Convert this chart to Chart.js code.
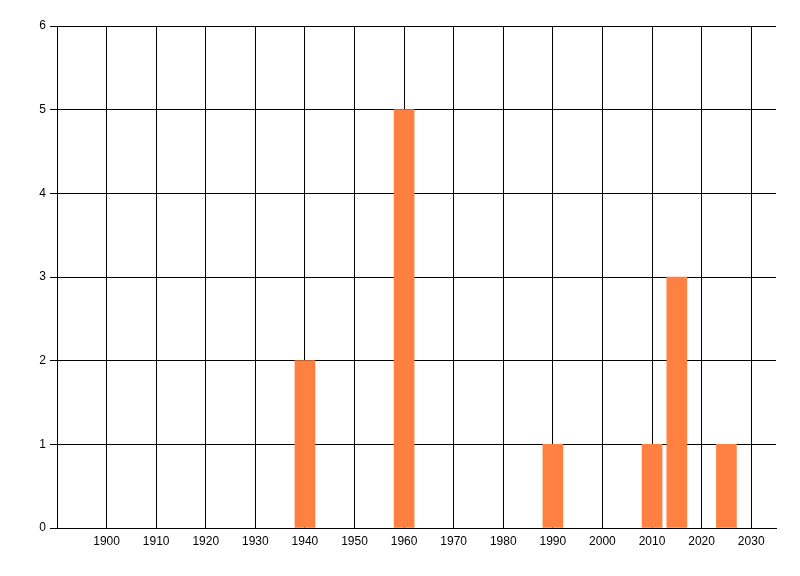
<!DOCTYPE html>
<html>
<head>
<meta charset="utf-8">
<style>
  html, body { margin: 0; padding: 0; background: #fff; }
  #wrap { width: 800px; height: 576px; }
</style>
<script src="https://cdn.jsdelivr.net/npm/chart.js@4/dist/chart.umd.min.js"></script>
</head>
<body>
<div id="wrap"><canvas id="chart" width="800" height="576"></canvas></div>
<script>
// data
const years = [1940, 1960, 1990, 2010, 2015, 2025];
const counts = [2, 5, 1, 1, 3, 1];
const xTickYears = [1900, 1910, 1920, 1930, 1940, 1950, 1960, 1970, 1980, 1990, 2000, 2010, 2020, 2030];
const yTickValues = [0, 1, 2, 3, 4, 5, 6];

const points = years.map(function(y, i) { return { x: y, y: counts[i] }; });

const ctx = document.getElementById("chart").getContext("2d");
new Chart(ctx, {
    type: "bar",
    data: {
        datasets: [{
            data: points,
            backgroundColor: "#FF8040",
            borderWidth: 0,
            barThickness: 20
        }]
    },
    options: {
        responsive: false,
        animation: false,
        layout: { padding: { top: 26, right: 24, left: 0, bottom: 0 } },
        plugins: { legend: { display: false }, tooltip: { enabled: false } },
        scales: {
            x: {
                type: "linear",
                min: 1890,
                max: 2035,
                offset: false,
                afterBuildTicks: function(scale) {
                    scale.ticks = xTickYears.map(function(v) { return { value: v }; });
                },
                afterFit: function(scale) { scale.height = 48; },
                grid: { color: "#000", lineWidth: 1, drawTicks: false, offset: false },
                border: { color: "#000", width: 1 },
                ticks: {
                    color: "#000",
                    padding: 6,
                    maxRotation: 0,
                    autoSkip: false,
                    font: { family: "Liberation Sans", size: 12 },
                    callback: function(v) { return String(v); }
                }
            },
            y: {
                min: 0,
                max: 6,
                afterBuildTicks: function(scale) {
                    scale.ticks = yTickValues.map(function(v) { return { value: v }; });
                },
                afterFit: function(scale) { scale.width = 57; },
                grid: { color: "#000", lineWidth: 1, drawTicks: true, tickLength: 7 },
                border: { color: "#000", width: 1 },
                ticks: {
                    color: "#000",
                    padding: 4,
                    font: { family: "Liberation Sans", size: 12 }
                }
            }
        }
    }
});
</script>
</body>
</html>
